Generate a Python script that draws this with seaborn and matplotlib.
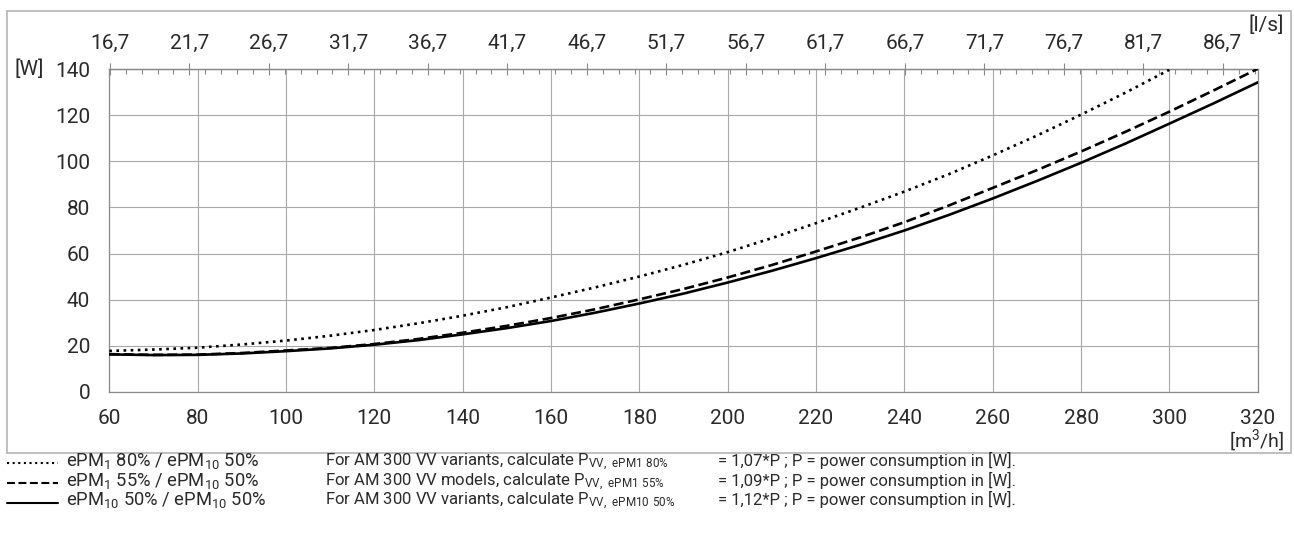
import numpy as np
import pandas as pd
import matplotlib
matplotlib.use("Agg")
import matplotlib.pyplot as plt
import seaborn as sns
from matplotlib.ticker import FixedLocator, MultipleLocator
from matplotlib.lines import Line2D
from matplotlib.patches import Rectangle

# ---------------- data ----------------
airflow_m3h = [60, 70, 80, 90, 100, 110, 120, 130, 140, 150, 160, 170, 180, 190, 200,
               210, 220, 230, 240, 250, 260, 270, 280, 290, 300, 310, 320]
power_epm1_80 = [17.7, 18.3, 19.1, 20.5, 22.2, 24.3, 26.8, 29.7, 33.0, 36.7, 40.9, 45.3, 50.0,
                 55.1, 60.6, 66.7, 73.2, 79.9, 86.9, 94.4, 102.6, 111.2, 120.3, 129.8, 139.8]
power_epm1_55 = [16.3, 16.0, 16.1, 16.8, 17.9, 19.0, 20.7, 22.9, 25.6, 28.6, 32.0, 35.8, 40.1,
                 44.6, 49.6, 55.0, 60.9, 67.0, 73.6, 80.8, 88.5, 96.2, 104.3, 112.8, 121.6,
                 130.8, 140.2]
power_epm10_50 = [16.2, 15.9, 16.0, 16.6, 17.6, 18.8, 20.4, 22.4, 24.9, 27.6, 30.7, 34.3, 38.3,
                  42.6, 47.4, 52.5, 58.0, 63.8, 70.0, 76.7, 83.9, 91.5, 99.4, 107.7, 116.4,
                  125.2, 134.3]

x_ticks = [60, 80, 100, 120, 140, 160, 180, 200, 220, 240, 260, 280, 300, 320]
y_ticks = [0, 20, 40, 60, 80, 100, 120, 140]
ls_ticks = [16.7, 21.7, 26.7, 31.7, 36.7, 41.7, 46.7, 51.7, 56.7, 61.7, 66.7, 71.7, 76.7, 81.7, 86.7]
ls_labels = ["16,7", "21,7", "26,7", "31,7", "36,7", "41,7", "46,7", "51,7", "56,7",
             "61,7", "66,7", "71,7", "76,7", "81,7", "86,7"]

series_labels = [r"ePM$_\mathregular{1}$ 80% / ePM$_\mathregular{10}$ 50%",
                 r"ePM$_\mathregular{1}$ 55% / ePM$_\mathregular{10}$ 50%",
                 r"ePM$_\mathregular{10}$ 50% / ePM$_\mathregular{10}$ 50%"]
note_texts = [r"For AM 300 VV variants, calculate P$_\mathregular{VV,\ ePM1\ 80\%}$",
              r"For AM 300 VV models, calculate P$_\mathregular{VV,\ ePM1\ 55\%}$",
              r"For AM 300 VV variants, calculate P$_\mathregular{VV,\ ePM10\ 50\%}$"]
factor_texts = ["= 1,07*P ; P = power consumption in [W].",
                "= 1,09*P ; P = power consumption in [W].",
                "= 1,12*P ; P = power consumption in [W]."]

# ---------------- style ----------------
sns.set_style("white")
plt.rcParams["font.family"] = ["Roboto", "DejaVu Sans"]
plt.rcParams["mathtext.fontset"] = "custom"
plt.rcParams["mathtext.rm"] = "Roboto"
plt.rcParams["mathtext.default"] = "regular"

W, H = 1294, 549
fig = plt.figure(figsize=(W / 100, H / 100), dpi=100)
ax = fig.add_axes([109.3 / W, 1 - 391.7 / H, (1257.7 - 109.3) / W, (391.7 - 69.3) / H])

TXT = "#2a2a2a"
GRAY = "#8a8a8a"

n80 = len(power_epm1_80)
df1 = pd.DataFrame({"x": airflow_m3h[:n80], "y": power_epm1_80})
df2 = pd.DataFrame({"x": airflow_m3h, "y": power_epm1_55})
df3 = pd.DataFrame({"x": airflow_m3h, "y": power_epm10_50})

lw = 1.9
sns.lineplot(data=df1, x="x", y="y", ax=ax, color="black", lw=lw, linestyle=(0, (1, 1.7)), zorder=3)
sns.lineplot(data=df2, x="x", y="y", ax=ax, color="black", lw=lw, linestyle=(0, (3.8, 1.7)), zorder=3)
sns.lineplot(data=df3, x="x", y="y", ax=ax, color="black", lw=lw, linestyle="-", zorder=3)

ax.set_xlim(60, 320)
ax.set_ylim(0, 140)
ax.set_xlabel("")
ax.set_ylabel("")
ax.xaxis.set_major_locator(FixedLocator(x_ticks))
ax.yaxis.set_major_locator(FixedLocator(y_ticks))
ax.xaxis.set_minor_locator(MultipleLocator(5))
ax.yaxis.set_minor_locator(MultipleLocator(4))
ax.grid(True, which="major", color="#a8a8a8", lw=0.8, zorder=0)
ax.set_axisbelow(True)

for s in ax.spines.values():
    s.set_color(GRAY)
    s.set_linewidth(0.9)

ax.tick_params(axis="x", which="major", direction="inout", length=8.4, width=0.8,
               color=GRAY, labelsize=15, labelcolor=TXT, pad=8)
ax.tick_params(axis="x", which="minor", direction="in", length=3.6, width=0.8, color=GRAY)
ax.tick_params(axis="y", which="major", direction="out", length=4.3, width=0.8,
               color=GRAY, labelsize=15, labelcolor=TXT, pad=9.5)
ax.tick_params(axis="y", which="minor", direction="in", length=3.6, width=0.8, color=GRAY)

secax = ax.secondary_xaxis("top", functions=(lambda v: v / 3.6, lambda v: v * 3.6))
secax.xaxis.set_major_locator(FixedLocator(ls_ticks))
secax.set_xticklabels(ls_labels)
secax.xaxis.set_minor_locator(FixedLocator(list(np.arange(16.7, 89.0, 1.0))))
secax.tick_params(which="major", direction="inout", length=8.4, width=0.8,
                  color=GRAY, labelsize=15, labelcolor=TXT, pad=7.5)
secax.tick_params(which="minor", direction="in", length=3.6, width=0.8, color=GRAY)
secax.spines["top"].set_color(GRAY)
secax.spines["top"].set_linewidth(0.9)

def fx(px):
    return px / W

def fy(py):
    return 1 - py / H

# unit labels
fig.text(fx(15), fy(69), "[W]", fontsize=15, color=TXT, va="center", ha="left")
fig.text(fx(1284), fy(25), "[l/s]", fontsize=15, color=TXT, va="center", ha="right")
fig.text(fx(1284), fy(441), r"[m$^\mathregular{3}$/h]", fontsize=14, color=TXT, va="center", ha="right")

# outer frame
fig.add_artist(Rectangle((fx(7), fy(453)), fx(1290.5) - fx(7), fy(11.5) - fy(453),
                         transform=fig.transFigure, fill=False, ec="#b4b4b4", lw=1.2))

# legend block
styles = [(0, (1, 1.7)), (0, (3.8, 1.7)), "-"]
baselines = [466, 486, 505.5]
for st, lab, note, fac, bl in zip(styles, series_labels, note_texts, factor_texts, baselines):
    fig.add_artist(Line2D([fx(7), fx(58)], [fy(bl - 3), fy(bl - 3)], transform=fig.transFigure,
                          color="black", lw=1.5, linestyle=st))
    fig.text(fx(66), fy(bl), lab, fontsize=13.2, color=TXT, va="baseline", ha="left")
    fig.text(fx(325), fy(bl), note, fontsize=12, color=TXT, va="baseline", ha="left")
    fig.text(fx(718), fy(bl), fac, fontsize=12, color=TXT, va="baseline", ha="left")

fig.savefig("out.png", dpi=100)
